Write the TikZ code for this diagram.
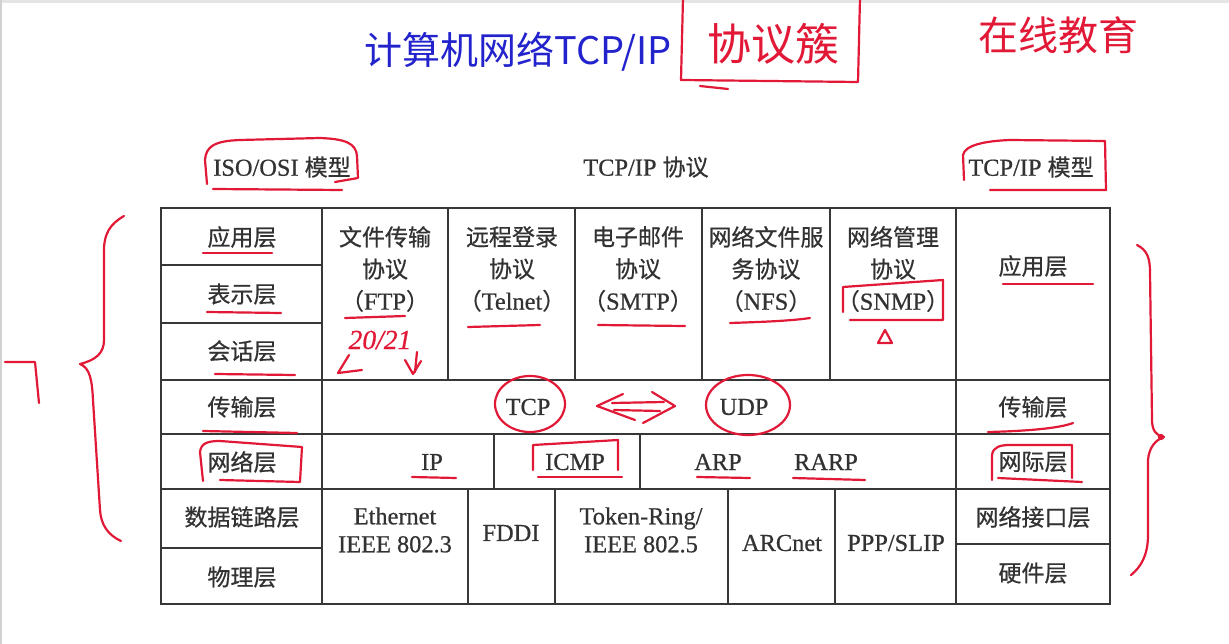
\documentclass[tikz,border=0pt]{standalone}
\usepackage{fontspec}
\setmainfont[Scale=1.06,FakeBold=0.6]{Liberation Serif}
\newfontfamily\zhfont[FakeBold=0.6]{Noto Sans CJK SC}
\newfontfamily\handzh{Noto Sans CJK SC}
\newcommand\zhtxt[1]{{\zhfont #1}}
\definecolor{ink}{RGB}{50,50,50}
\definecolor{gridc}{RGB}{55,55,55}
\definecolor{pen}{RGB}{225,25,55}
\definecolor{bluepen}{RGB}{35,35,205}
\tikzset{
  gridline/.style={draw=gridc, line width=2.9pt},
  cell/.style={text=ink, inner sep=0pt, align=center, font=\fontsize{23}{32}\selectfont},
  redpen/.style={draw=pen, line width=2.2pt, line cap=round, line join=round},
  hand/.style={inner sep=0pt, font=\handzh\fontsize{40}{40}\selectfont},
}
\begin{document}
\begin{tikzpicture}[x=1pt,y=-1pt]
\useasboundingbox (0,0) rectangle (1229,644);
\fill[white] (0,0) rectangle (1229,644);
\fill[black!10] (0,0) rectangle (1229,3);
\fill[black!18] (0,0) rectangle (2,644);

% ---------- grid ----------
\draw[gridline] (161,208) rectangle (1110,604);
\draw[gridline] (322,208) -- (322,604);
\draw[gridline] (956,208) -- (956,604);
\foreach \x in {448,575,702,830} \draw[gridline] (\x,208) -- (\x,380);
\foreach \y in {265,323} \draw[gridline] (161,\y) -- (322,\y);
\foreach \y in {380,434,489} \draw[gridline] (161,\y) -- (1110,\y);
\draw[gridline] (161,548) -- (322,548);
\draw[gridline] (956,544) -- (1110,544);
\foreach \x in {494,640} \draw[gridline] (\x,434) -- (\x,489);
\foreach \x in {468,555,728,835} \draw[gridline] (\x,489) -- (\x,604);

% ---------- headings ----------
\node[cell] (hosi) at (282,167) {ISO/OSI \zhtxt{模型}};
\node[cell] (hproto) at (646,167) {TCP/IP \zhtxt{协议}};
\node[cell] (htcpip) at (1031,167) {TCP/IP \zhtxt{模型}};

% ---------- OSI column ----------
\node[cell] (o7) at (242,237) {\zhtxt{应用层}};
\node[cell] (o6) at (242,294) {\zhtxt{表示层}};
\node[cell] (o5) at (242,351) {\zhtxt{会话层}};
\node[cell] (o4) at (242,407) {\zhtxt{传输层}};
\node[cell] (o3) at (242,462) {\zhtxt{网络层}};
\node[cell] (o2) at (242,517) {\zhtxt{数据链路层}};
\node[cell] (o1) at (242,577) {\zhtxt{物理层}};

% ---------- application protocols ----------
\node[cell] (ftp) at (385,269) {\zhtxt{文件传输}\\\zhtxt{协议}\\\zhtxt{（}FTP\zhtxt{）}};
\node[cell] (telnet) at (512,269) {\zhtxt{远程登录}\\\zhtxt{协议}\\\zhtxt{（}Telnet\zhtxt{）}};
\node[cell] (smtp) at (638,269) {\zhtxt{电子邮件}\\\zhtxt{协议}\\\zhtxt{（}SMTP\zhtxt{）}};
\node[cell] (nfs) at (766,269) {\zhtxt{网络文件服}\\\zhtxt{务协议}\\\zhtxt{（}NFS\zhtxt{）}};
\node[cell] (snmp) at (893,269) {\zhtxt{网络管理}\\\zhtxt{协议}\\\zhtxt{（}SNMP\zhtxt{）}};

% ---------- transport / network ----------
\node[cell] (tcp) at (528,407) {TCP};
\node[cell] (udp) at (744,407) {UDP};
\node[cell] (ip) at (432,462) {IP};
\node[cell] (icmp) at (575,462) {ICMP};
\node[cell] (arp) at (718,462) {ARP};
\node[cell] (rarp) at (826,462) {RARP};

% ---------- link ----------
\node[cell, font=\fontsize{23}{28}\selectfont] (eth) at (395,530) {Ethernet\\IEEE 802.3};
\node[cell] (fddi) at (511,533) {FDDI};
\node[cell, font=\fontsize{23}{28}\selectfont] (token) at (641,530) {Token-Ring/\\IEEE 802.5};
\node[cell] (arc) at (782,543) {ARCnet};
\node[cell] (ppp) at (896,543) {PPP/SLIP};

% ---------- TCP/IP model column ----------
\node[cell] (t4) at (1033,266) {\zhtxt{应用层}};
\node[cell] (t3) at (1033,407) {\zhtxt{传输层}};
\node[cell] (t2) at (1033,462) {\zhtxt{网际层}};
\node[cell] (t1) at (1033,517) {\zhtxt{网络接口层}};
\node[cell] (t0) at (1033,573) {\zhtxt{硬件层}};

% ---------- handwriting at top ----------
\node[hand, text=bluepen, font=\handzh\fontsize{38}{38}\selectfont] (title) at (518,52) {计算机网络TCP/IP};
\node[hand, text=pen, font=\handzh\fontsize{44}{44}\selectfont] (suite) at (773,44) {协议簇};
\draw[redpen] (683,-2) -- (681,80) -- (858,82) -- (860,-2);
\draw[redpen] (700,86) -- (728,89);
\node[hand, text=pen] (brand) at (1058,35) {在线教育};

% ---------- red annotations ----------
% ISO/OSI box
\draw[redpen] (207,184) -- (205,160) .. controls (206,146) and (215,141) .. (240,140) -- (320,138) .. controls (345,139) and (356,143) .. (357,156) -- (358,178) -- (335,182);
\draw[redpen] (213,189) -- (342,190);
% TCP/IP model box
\draw[redpen] (964,180) -- (963,155) .. controls (965,145) and (985,141) .. (1010,140) -- (1105,141) -- (1106,190) -- (990,190);
% underlines OSI
\draw[redpen] (203,253) -- (272,253);
\draw[redpen] (207,312) -- (281,313);
\draw[redpen] (215,374) -- (295,375);
\draw[redpen] (203,431) -- (297,433);
% network layer box (OSI)
\draw[redpen] (203,481) -- (200,452) .. controls (201,443) and (208,441) .. (220,441) -- (302,447) -- (300,482) -- (220,480);
% protocol underlines
\draw[redpen] (345,318) -- (405,316);
\draw[redpen] (468,327) -- (540,325);
\draw[redpen] (598,325) -- (685,326);
\draw[redpen] (730,323) .. controls (760,322) and (790,321) .. (810,318);
% SNMP box + triangle
\draw[redpen] (843,312) -- (843,287) -- (943,280) -- (943,320) -- (850,320);
\draw[redpen] (878,343) -- (892,343) -- (885,330) -- cycle;
% 20/21 with arrows
\node[inner sep=0pt, text=pen, font=\fontsize{26}{26}\selectfont\itshape] (port) at (380,340) {20/21};
\draw[redpen] (349,355) -- (338,373) -- (362,370);
\draw[redpen] (417,352) -- (415,372);
\draw[redpen] (405,360) -- (413,374) -- (421,361);
% TCP/UDP circles and double arrow
\draw[redpen] (530,404) ellipse [x radius=35pt, y radius=28pt];
\draw[redpen] (748,405) ellipse [x radius=42pt, y radius=30pt];
\draw[redpen] (623,394) -- (597,406) -- (635,420);
\draw[redpen] (652,392) -- (675,406) -- (643,423);
\draw[redpen] (612,403) -- (664,402);
\draw[redpen] (614,410) -- (660,411);
% app layer right underline
\draw[redpen] (1003,284) -- (1093,284);
% transport right underline
\draw[redpen] (988,432) .. controls (1030,431) and (1060,428) .. (1073,423);
% network row underlines
\draw[redpen] (412,477) -- (456,478);
\draw[redpen] (533,470) -- (533,445) -- (618,440) -- (618,470);
\draw[redpen] (538,477) -- (622,477);
\draw[redpen] (697,477) -- (750,478);
\draw[redpen] (793,478) -- (865,480);
% internet layer box
\draw[redpen] (992,480) -- (992,455) .. controls (993,447) and (1000,445) .. (1010,445) -- (1072,445) -- (1072,478);
\draw[redpen] (998,478) -- (1082,482);
% left brace
\draw[redpen] (124,216) .. controls (110,224) and (104,234) .. (104,250) -- (104,340) .. controls (104,353) and (96,360) .. (80,364) .. controls (90,368) and (92,380) .. (93,400) -- (100,510) .. controls (101,525) and (108,535) .. (121,541);
% small mark at far left
\draw[redpen] (5,362) -- (35,362) -- (39,403);
% right brace
\draw[redpen] (1137,245) .. controls (1147,250) and (1150,258) .. (1150,272) -- (1152,420) .. controls (1152,430) and (1156,436) .. (1164,437) .. controls (1155,440) and (1149,448) .. (1148,460) -- (1148,535) .. controls (1148,555) and (1141,567) .. (1131,575);
\fill[pen] (1161,437) circle (3.2pt);
\end{tikzpicture}
\end{document}
